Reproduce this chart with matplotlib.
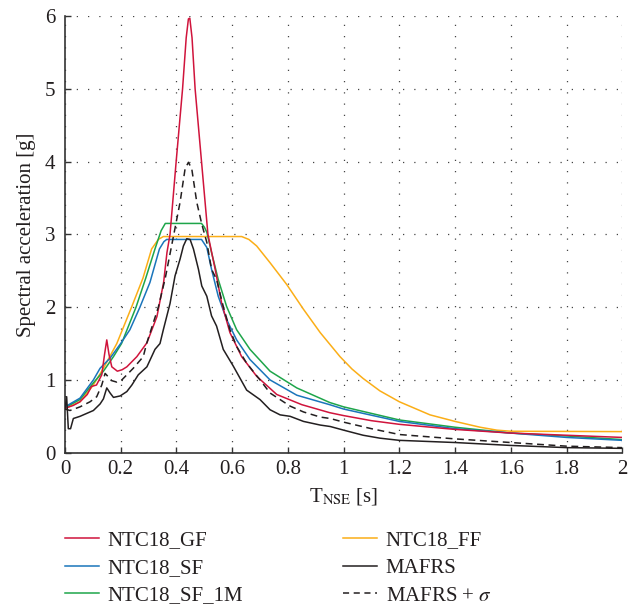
import matplotlib
matplotlib.use("Agg")
import matplotlib.pyplot as plt
from matplotlib.lines import Line2D

plt.rcParams['font.family'] = ['Liberation Serif', 'DejaVu Serif']
plt.rcParams['mathtext.fontset'] = 'stix'

# ---- data ----
t_gf = [0.0, 0.03, 0.054, 0.08, 0.095, 0.113, 0.132, 0.142, 0.150, 0.158, 0.168, 0.188, 0.205, 0.222,
        0.258, 0.294, 0.33, 0.354, 0.366, 0.377, 0.399, 0.422, 0.435, 0.443, 0.448, 0.456, 0.467, 0.49,
        0.513, 0.539, 0.562, 0.592, 0.634, 0.688, 0.76, 0.85, 0.95, 1.0, 1.1, 1.2, 1.4, 1.6, 1.8, 2.0]
sa_gf = [0.61, 0.65, 0.70, 0.80, 0.91, 0.93, 1.07, 1.35, 1.55, 1.35, 1.18, 1.12, 1.14, 1.18,
         1.32, 1.51, 1.87, 2.34, 2.75, 3.0, 4.0, 5.0, 5.7, 5.96, 5.97, 5.7, 5.0, 4.0,
         3.0, 2.52, 2.06, 1.65, 1.32, 1.05, 0.80, 0.66, 0.55, 0.51, 0.44, 0.39, 0.32, 0.27, 0.24, 0.21]

t_sf = [0.0, 0.054, 0.102, 0.126, 0.162, 0.2, 0.233, 0.269, 0.305, 0.339, 0.355, 0.365, 0.49, 0.509,
        0.526, 0.55, 0.58, 0.616, 0.664, 0.736, 0.832, 0.95, 1.0, 1.2, 1.4, 1.6, 1.8, 2.0]
sa_sf = [0.63, 0.75, 1.0, 1.16, 1.30, 1.50, 1.69, 2.0, 2.34, 2.8, 2.9, 2.93, 2.93, 2.82,
         2.52, 2.15, 1.83, 1.55, 1.28, 1.0, 0.79, 0.66, 0.60, 0.43, 0.33, 0.27, 0.21, 0.17]

t_sf1m = [0.0, 0.054, 0.102, 0.138, 0.174, 0.203, 0.255, 0.29, 0.323, 0.345, 0.36, 0.49, 0.50, 0.509,
          0.526, 0.55, 0.58, 0.616, 0.664, 0.736, 0.832, 0.95, 1.0, 1.2, 1.4, 1.6, 1.8, 2.0]
sa_sf1m = [0.62, 0.73, 0.96, 1.12, 1.32, 1.50, 2.0, 2.4, 2.8, 3.05, 3.15, 3.15, 3.10, 3.03,
           2.75, 2.38, 2.01, 1.69, 1.42, 1.12, 0.89, 0.69, 0.63, 0.45, 0.35, 0.27, 0.23, 0.18]

t_ff = [0.0, 0.054, 0.1, 0.138, 0.186, 0.239, 0.28, 0.311, 0.335, 0.353, 0.634, 0.66, 0.688, 0.736,
        0.796, 0.856, 0.916, 0.987, 1.03, 1.07, 1.13, 1.2, 1.31, 1.4, 1.49, 1.55, 1.6, 2.0]
sa_ff = [0.61, 0.70, 0.92, 1.16, 1.50, 2.0, 2.4, 2.8, 2.93, 2.97, 2.97, 2.93, 2.84, 2.61,
         2.31, 1.97, 1.65, 1.32, 1.15, 1.02, 0.85, 0.70, 0.52, 0.43, 0.35, 0.31, 0.295, 0.29]

t_mafrs = [0.0, 0.006, 0.012, 0.02, 0.03, 0.054, 0.078, 0.102, 0.126, 0.138, 0.150, 0.162, 0.174, 0.198,
           0.222, 0.24, 0.263, 0.294, 0.323, 0.341, 0.353, 0.377, 0.395, 0.413, 0.425, 0.437, 0.449, 0.461,
           0.479, 0.491, 0.509, 0.526, 0.544, 0.568, 0.604, 0.652, 0.70, 0.736, 0.772, 0.808, 0.856,
           0.916, 0.952, 1.0, 1.07, 1.13, 1.2, 1.4, 1.6, 1.8, 2.0]
sa_mafrs = [0.60, 0.77, 0.33, 0.33, 0.47, 0.50, 0.54, 0.58, 0.67, 0.74, 0.89, 0.82, 0.76, 0.78,
            0.84, 0.93, 1.07, 1.18, 1.42, 1.5, 1.69, 2.05, 2.43, 2.66, 2.84, 2.94, 2.93, 2.80,
            2.52, 2.29, 2.15, 1.88, 1.74, 1.42, 1.19, 0.86, 0.73, 0.59, 0.52, 0.50, 0.43,
            0.38, 0.36, 0.31, 0.24, 0.20, 0.17, 0.14, 0.10, 0.07, 0.06]

t_sig = [0.0, 0.018, 0.054, 0.09, 0.114, 0.132, 0.144, 0.156, 0.168, 0.186, 0.204, 0.245, 0.281, 0.293,
         0.335, 0.36, 0.383, 0.413, 0.431, 0.443, 0.455, 0.473, 0.491, 0.509, 0.526, 0.544, 0.568,
         0.592, 0.616, 0.652, 0.70, 0.736, 0.772, 0.808, 0.856, 0.916, 0.952, 1.0, 1.1, 1.2, 1.4,
         1.6, 1.8, 2.0]
sa_sig = [0.60, 0.58, 0.63, 0.70, 0.77, 0.93, 1.09, 1.04, 0.99, 0.97, 1.00, 1.16, 1.32, 1.5,
          2.0, 2.4, 2.85, 3.44, 3.9, 3.99, 3.9, 3.44, 3.14, 2.89, 2.52, 2.38, 2.01,
          1.69, 1.46, 1.23, 1.0, 0.82, 0.73, 0.64, 0.56, 0.49, 0.47, 0.42, 0.33, 0.25, 0.19,
          0.14, 0.09, 0.07]

x_ticks = [0, 0.2, 0.4, 0.6, 0.8, 1, 1.2, 1.4, 1.6, 1.8, 2]
x_ticklabels = ['0', '0.2', '0.4', '0.6', '0.8', '1', '1.2', '1.4', '1.6', '1.8', '2']
y_ticks = [0, 1, 2, 3, 4, 5, 6]

c_red = '#d0143c'
c_blue = '#1a75bb'
c_green = '#1ea54a'
c_orange = '#fbae17'
c_black = '#231f20'

fig = plt.figure(figsize=(6.37, 6.08), dpi=100)
ax = fig.add_axes([0.102, 0.2554, 0.8749, 0.7183])

lw = 1.1
ax.plot(t_ff, sa_ff, color=c_orange, lw=lw, zorder=3)
ax.plot(t_sf1m, sa_sf1m, color=c_green, lw=lw, zorder=3)
ax.plot(t_sf, sa_sf, color=c_blue, lw=lw, zorder=3)
ax.plot(t_gf, sa_gf, color=c_red, lw=lw, zorder=4)
ax.plot(t_mafrs, sa_mafrs, color=c_black, lw=lw, zorder=5)
ax.plot(t_sig, sa_sig, color=c_black, lw=lw, ls=(0, (4.5, 3)), zorder=5)

ax.set_xlim(0, 2)
ax.set_ylim(0, 6)
ax.set_xticks(x_ticks)
ax.set_xticklabels(x_ticklabels)
ax.set_yticks(y_ticks)
ax.grid(True, color='#444444', lw=0.9, ls=(0, (1, 8)))
for s in ['top', 'right']:
    ax.spines[s].set_visible(False)
for s in ['left', 'bottom']:
    ax.spines[s].set_linewidth(1.2)
    ax.spines[s].set_color('#333333')
ax.tick_params(direction='in', length=4.5, width=1.0, color='#333333',
               labelsize=15, labelcolor='#231f20')
ax.tick_params(axis='y', pad=7)
ax.tick_params(axis='x', pad=5)
ax.set_ylabel('Spectral acceleration [g]', fontsize=15, color='#231f20', labelpad=6)
ax.set_xlabel(r'T$_{\mathrm{NSE}}$ [s]', fontsize=15, color='#231f20', labelpad=5)

h1 = [Line2D([], [], color=c_red, lw=lw), Line2D([], [], color=c_blue, lw=lw),
      Line2D([], [], color=c_green, lw=lw)]
l1 = ['NTC18_GF', 'NTC18_SF', 'NTC18_SF_1M']
h2 = [Line2D([], [], color=c_orange, lw=lw), Line2D([], [], color=c_black, lw=lw),
      Line2D([], [], color=c_black, lw=lw, ls=(0, (4, 3)))]
l2 = ['NTC18_FF', 'MAFRS', r'MAFRS + $\sigma$']

kw = dict(frameon=False, fontsize=15, handlelength=1.65, handletextpad=0.4,
          labelspacing=0.38, borderpad=0, borderaxespad=0, loc='upper left')
leg1 = fig.legend(h1, l1, bbox_to_anchor=(65 / 637, 1 - 531 / 608), **kw)
leg2 = fig.legend(h2, l2, bbox_to_anchor=(343 / 637, 1 - 531 / 608), **kw)
for leg in (leg1, leg2):
    for t in leg.get_texts():
        t.set_color('#231f20')

fig.savefig('out.png', dpi=100)
